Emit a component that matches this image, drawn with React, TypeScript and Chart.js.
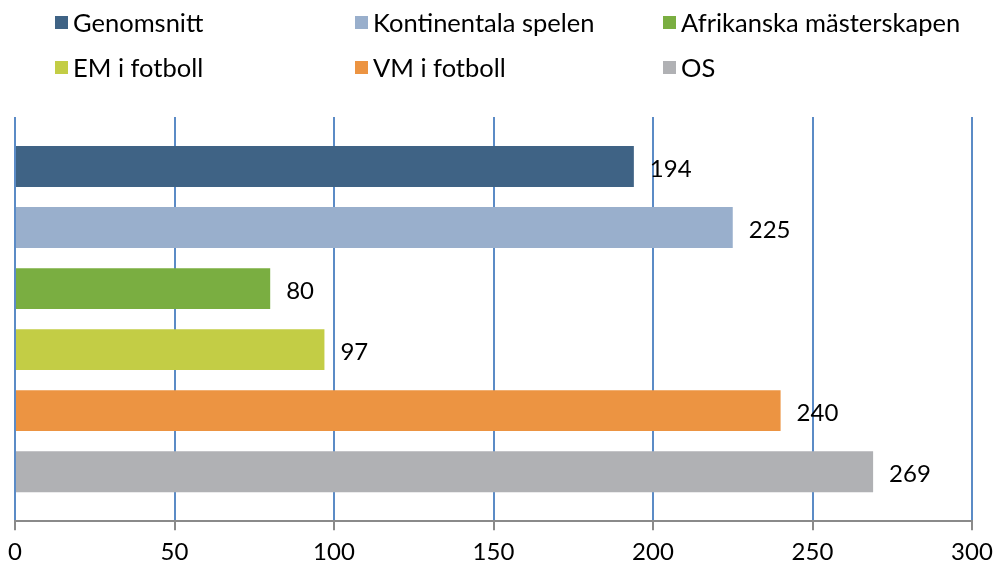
import React, { useEffect, useRef } from "react";
import { Chart, registerables } from "chart.js";

Chart.register(...registerables);

const seriesNames = [
  "Genomsnitt",
  "Kontinentala spelen",
  "Afrikanska mästerskapen",
  "EM i fotboll",
  "VM i fotboll",
  "OS",
];
const seriesValues = [194, 225, 80, 97, 240, 269];
const seriesColors = ["#3f6385", "#99afcc", "#7aae41", "#c3cd45", "#ec9442", "#b0b1b4"];
const xTicks = [0, 50, 100, 150, 200, 250, 300];

const FONT = "Lato, 'DejaVu Sans', sans-serif";

const valueLabels = {
  id: "valueLabels",
  afterDatasetsDraw(chart: any) {
    const ctx = chart.ctx;
    ctx.save();
    ctx.font = `24px ${FONT}`;
    ctx.fillStyle = "#000";
    ctx.textBaseline = "middle";
    ctx.textAlign = "left";
    chart.data.datasets.forEach((ds: any, i: number) => {
      const meta = chart.getDatasetMeta(i);
      const el = meta.data[0];
      if (!el) return;
      ctx.fillText(String(ds.data[0]), el.x + 16, el.y + 3);
    });
    ctx.restore();
  },
};

export default function App() {
  const ref = useRef<HTMLCanvasElement>(null);
  useEffect(() => {
    if (!ref.current) return;
    const chart = new Chart(ref.current, {
      type: "bar",
      data: {
        labels: [""],
        datasets: seriesNames.map((name, i) => ({
          label: name,
          data: [seriesValues[i]],
          backgroundColor: seriesColors[i],
          borderWidth: 0,
          categoryPercentage: 0.906,
          barPercentage: 0.67,
        })),
      },
      options: {
        indexAxis: "y",
        animation: false,
        responsive: false,
        maintainAspectRatio: false,
        layout: { padding: { left: 15, right: 22, top: 117, bottom: -8 } },
        plugins: {
          legend: { display: false },
          tooltip: { enabled: false },
        },
        scales: {
          x: {
            min: 0,
            max: 300,
            afterBuildTicks: (axis: any) => {
              axis.ticks = xTicks.map((v) => ({ value: v }));
            },
            afterFit: (axis: any) => {
              axis.paddingLeft = 0;
              axis.paddingRight = 0;
            },
            grid: {
              color: "#5b8bc6",
              lineWidth: 2,
              tickColor: "#8a8a8a",
              tickLength: 9,
              drawOnChartArea: true,
            },
            border: { color: "#8a8a8a", width: 2 },
            ticks: {
              color: "#000",
              font: { family: FONT, size: 24 },
              padding: 8,
              maxRotation: 0,
            },
          },
          y: {
            display: false,
          },
        },
      },
      plugins: [valueLabels],
    });
    return () => chart.destroy();
  }, []);

  const legendCols = [47, 347, 655];
  const legendRows = [22, 67];

  return (
    <div style={{ position: "fixed", left: 0, top: 0, width: 994, height: 567, background: "#fff" }}>
      <canvas ref={ref} width={994} height={567} style={{ position: "absolute", left: 0, top: 0 }} />
      {seriesNames.map((name, i) => (
        <div
          key={name}
          style={{
            position: "absolute",
            left: legendCols[i % 3] + 8,
            top: legendRows[Math.floor(i / 3)] - 15,
            height: 30,
            display: "flex",
            alignItems: "center",
            fontFamily: FONT,
            fontSize: 25.5,
            color: "#000",
            whiteSpace: "nowrap",
          }}
        >
          <span
            style={{
              display: "inline-block",
              width: 13,
              height: 13,
              background: seriesColors[i],
              marginRight: 5,
            }}
          />
          {name}
        </div>
      ))}
    </div>
  );
}
